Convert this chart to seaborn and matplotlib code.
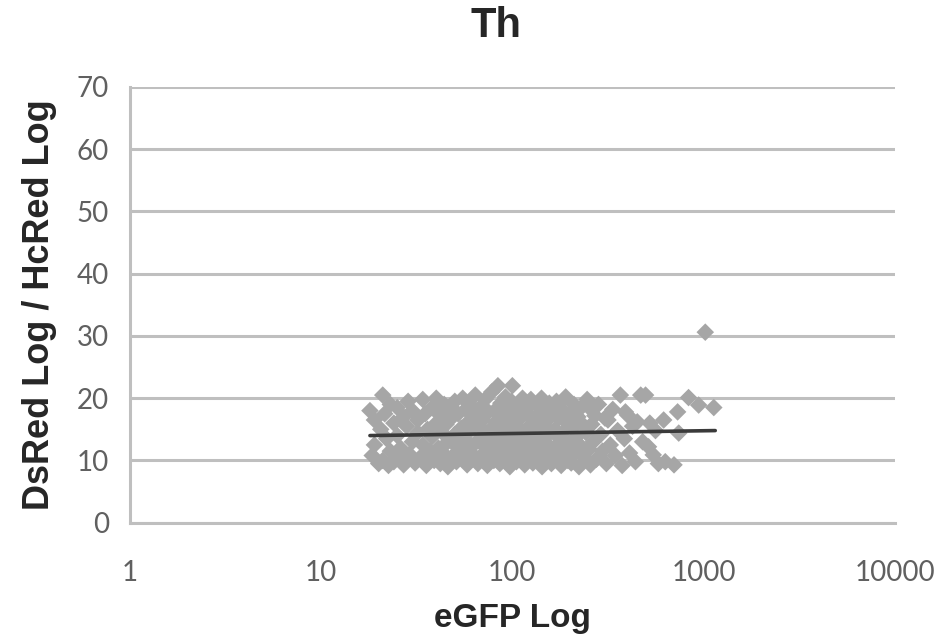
import matplotlib
matplotlib.use("Agg")
import numpy as np
import pandas as pd
import matplotlib.pyplot as plt
import seaborn as sns

# eGFP (x, log axis) and DsRed/HcRed ratio (y)
egfp = [
    18, 18.5, 19, 19, 20, 20.5, 21, 21.5, 21, 22, 22.5, 23, 23, 24, 24, 25, 25, 25.5,
    26, 27, 27, 28, 28.5, 29, 30, 30, 31, 32, 32, 33, 34, 34, 35, 35.5, 36, 37, 38, 38, 39, 40, 40,
    41, 42, 42, 43, 44, 44, 45, 46, 46, 47, 48, 48, 49, 50, 50, 51, 52, 53, 54, 55, 55, 56, 57, 58, 58, 59, 60, 60,
    62, 63, 64, 65, 66, 67, 68, 69, 70, 70, 72, 73, 74, 75, 76, 77, 78, 79, 80, 81, 82, 83, 84, 85,
    86, 87, 88, 89, 90, 91, 92, 93, 94, 95, 96, 97, 98, 99, 100, 100,
    102, 104, 105, 106, 108, 109, 110, 112, 113, 115, 116, 118, 119, 120, 122, 124, 125, 126, 128,
    130, 132, 133, 135, 136, 138, 140, 142, 143, 145, 147, 149, 150, 152, 155, 156, 158, 160,
    162, 165, 167, 170, 172, 175, 177, 180, 182, 185, 188, 190, 193, 195, 198, 200, 203, 206, 210,
    213, 216, 220, 223, 226, 230, 234, 238, 242, 246, 250, 252, 256, 260,
    265, 270, 275, 282, 290, 296, 305, 310, 316, 325, 335, 345, 355, 367, 375, 385, 390, 400, 410,
    425, 440, 450,
    469, 480, 497, 515, 523, 545, 560, 580, 618, 630, 700, 731, 741,
    834, 942, 1020, 1130,
]
ratio = [
    18.0, 10.8, 16.5, 12.5, 9.5, 15.0, 20.5, 17.5, 10.0, 13.5, 9.2, 19.0, 11.5, 16.0, 9.8, 14.0, 18.5, 10.5,
    12.0, 17.0, 9.3, 15.5, 19.5, 11.0, 13.0, 18.0, 9.6, 16.5, 14.5, 10.5, 19.8, 12.5, 17.5, 9.2, 15.0, 11.5, 18.5, 13.8, 10.0, 16.0, 20.0,
    12.0, 17.2, 9.5, 14.5, 19.0, 11.0, 15.8, 13.0, 9.0, 18.0, 10.5, 16.8, 12.8, 19.5, 14.2, 9.8, 17.5, 11.8, 15.2, 20.0, 10.2, 13.5, 18.2, 16.0, 9.3, 12.0, 14.8, 19.0,
    11.0, 17.0, 20.5, 13.0, 9.5, 15.5, 18.5, 10.8, 12.5, 16.5, 19.8, 14.0, 9.2, 17.8, 11.5, 15.0, 21.0, 13.2, 10.0, 18.0, 16.2, 12.0, 22.0, 14.5,
    9.5, 19.2, 11.2, 17.0, 13.5, 15.8, 20.2, 10.5, 18.8, 12.8, 16.5, 9.0, 14.2, 19.5, 22.0, 11.5,
    17.5, 13.0, 9.8, 15.5, 19.0, 11.0, 16.8, 12.3, 20.0, 14.0, 9.3, 18.2, 10.8, 15.2, 13.5, 17.0, 19.8, 11.8, 9.6,
    16.2, 14.8, 12.5, 18.8, 10.2, 17.5, 13.8, 20.0, 9.0, 15.8, 11.5, 18.0, 12.8, 16.5, 10.5, 19.2, 14.5, 9.5,
    17.8, 12.0, 15.0, 19.5, 10.8, 16.8, 13.5, 9.2, 18.2, 11.5, 14.8, 20.2, 16.0, 10.0, 12.8, 17.5, 9.6, 15.2, 19.0,
    11.2, 13.8, 17.0, 9.0, 16.2, 12.2, 18.8, 10.5, 14.5, 19.8, 18.6, 11.8, 9.3, 15.8,
    13.0, 17.2, 10.2, 19.0, 14.2, 11.5, 16.8, 9.5, 16.5, 12.5, 18.2, 10.8, 14.8, 20.5, 9.2, 13.5, 17.8, 17.3, 11.2,
    15.5, 9.8, 16.2,
    20.5, 13.0, 20.5, 12.2, 16.0, 10.9, 14.8, 9.5, 16.5, 9.8, 9.3, 17.8, 14.4,
    20.1, 18.9, 30.6, 18.5,
]

# trend line end points as drawn
trend_x = [18, 1150]
trend_y = [14.0, 14.8]

df = pd.DataFrame({"eGFP": egfp, "ratio": ratio})
trend = pd.DataFrame({"eGFP": trend_x, "ratio": trend_y})

sns.set_theme(style="white")
plt.rcParams["font.family"] = ["Liberation Sans", "DejaVu Sans"]

grid_c = "#bfbfbf"
fig = plt.figure(figsize=(9.41, 6.43), dpi=100)
ax = fig.add_axes([0.138, 0.187, 0.813, 0.678])

sns.scatterplot(data=df, x="eGFP", y="ratio", marker="D", s=80, color="#a6a6a6",
                edgecolor="none", linewidth=0, ax=ax, zorder=3)
sns.lineplot(data=trend, x="eGFP", y="ratio", color="#3a3a3a", linewidth=2.6, ax=ax, zorder=4)

ax.set_xscale("log")
ax.set_xlim(1, 10000)
ax.set_ylim(0, 70)
ax.set_xticks([1, 10, 100, 1000, 10000])
ax.set_xticklabels(["1", "10", "100", "1000", "10000"])
ax.set_yticks(range(0, 71, 10))
ax.minorticks_off()

ax.yaxis.grid(True, color=grid_c, linewidth=2.2)
ax.set_axisbelow(True)
for side in ["top", "right"]:
    ax.spines[side].set_visible(False)
for side in ["left", "bottom"]:
    ax.spines[side].set_color(grid_c)
    ax.spines[side].set_linewidth(2.2)
ax.tick_params(axis="both", which="major", direction="out", length=7, width=2,
               color=grid_c, labelcolor="#606060", labelsize=20)
ax.tick_params(axis="x", pad=20)
ax.tick_params(axis="y", pad=8)
for lab in ax.get_xticklabels() + ax.get_yticklabels():
    lab.set_family(["Lato", "DejaVu Sans"])

ax.set_title("Th", fontsize=30, fontweight="bold", x=0.478, pad=36)
ax.set_xlabel("eGFP Log", fontsize=24, fontweight="bold", labelpad=12)
ax.set_ylabel("DsRed Log / HcRed Log", fontsize=26, fontweight="bold", labelpad=14)

fig.savefig("out.png", dpi=100)
